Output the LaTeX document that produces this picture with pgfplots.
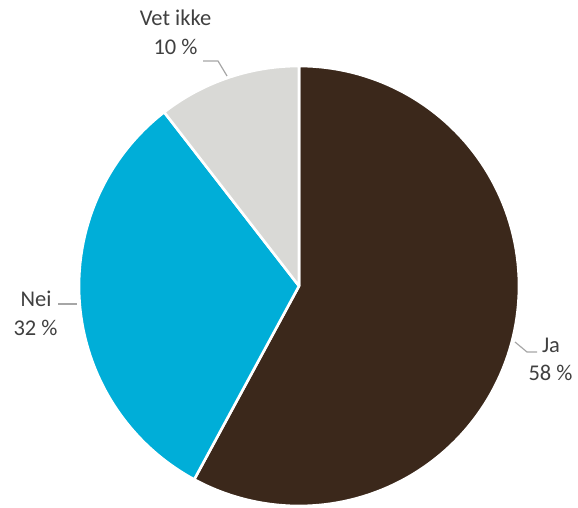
\documentclass[border=0pt]{standalone}
\usepackage{pgfplots}
\pgfplotsset{compat=1.18}
\usepackage{fontspec}
\setmainfont{Carlito}
\definecolor{jacol}{HTML}{3B281B}
\definecolor{neicol}{HTML}{00AED8}
\definecolor{vetcol}{HTML}{D9D9D6}
\definecolor{txtcol}{HTML}{404040}
\definecolor{leadcol}{HTML}{A6A6A6}
% percentages (unrounded shares)
\def\ja{57.9}
\def\nei{31.6}
\def\vet{10.5}
\pgfmathsetmacro{\aA}{90}
\pgfmathsetmacro{\aB}{90-3.6*\ja}
\pgfmathsetmacro{\aC}{\aB-3.6*\nei}
\pgfmathsetmacro{\aD}{\aC-3.6*\vet}
\def\cx{299}
\def\cy{220}
\def\r{220}
\newcommand{\lblfont}{\fontsize{22.5}{27}\selectfont}
\tikzset{lbl/.style={font=\lblfont, text=txtcol, inner sep=0pt, anchor=base}}
\begin{document}
\begin{tikzpicture}
\begin{axis}[
  width=578pt, height=506pt, scale only axis,
  xmin=0, xmax=578, ymin=0, ymax=506,
  hide axis, clip=false,
]
\addplot[draw=none, forget plot] coordinates {(0,0) (578,506)};
% slices
\addplot[fill=jacol, draw=white, line width=2.6pt, domain=\aB:\aA, samples=120, line join=round]
  ({\cx+\r*cos(x)}, {\cy+\r*sin(x)}) -- (axis cs:\cx,\cy) -- cycle;
\addplot[fill=neicol, draw=white, line width=2.6pt, domain=\aC:\aB, samples=80, line join=round]
  ({\cx+\r*cos(x)}, {\cy+\r*sin(x)}) -- (axis cs:\cx,\cy) -- cycle;
\addplot[fill=vetcol, draw=white, line width=2.6pt, domain=\aD:\aC, samples=40, line join=round]
  ({\cx+\r*cos(x)}, {\cy+\r*sin(x)}) -- (axis cs:\cx,\cy) -- cycle;
% leader lines
\addplot[leadcol, line width=1.2pt] coordinates {(203,445) (218,445) (227,430)};
\addplot[leadcol, line width=1.2pt] coordinates {(58,202) (77,202)};
\addplot[leadcol, line width=1.2pt] coordinates {(515,164) (527,154) (537,154)};
% labels
\node[lbl] at (axis cs:175.5,480) {Vet ikke};
\node[lbl] at (axis cs:175.5,451) {10 \%};
\node[lbl] at (axis cs:36,200) {Nei};
\node[lbl] at (axis cs:35.5,171) {32 \%};
\node[lbl] at (axis cs:551,154) {Ja};
\node[lbl] at (axis cs:550.5,126) {58 \%};
\end{axis}
\end{tikzpicture}
\end{document}
